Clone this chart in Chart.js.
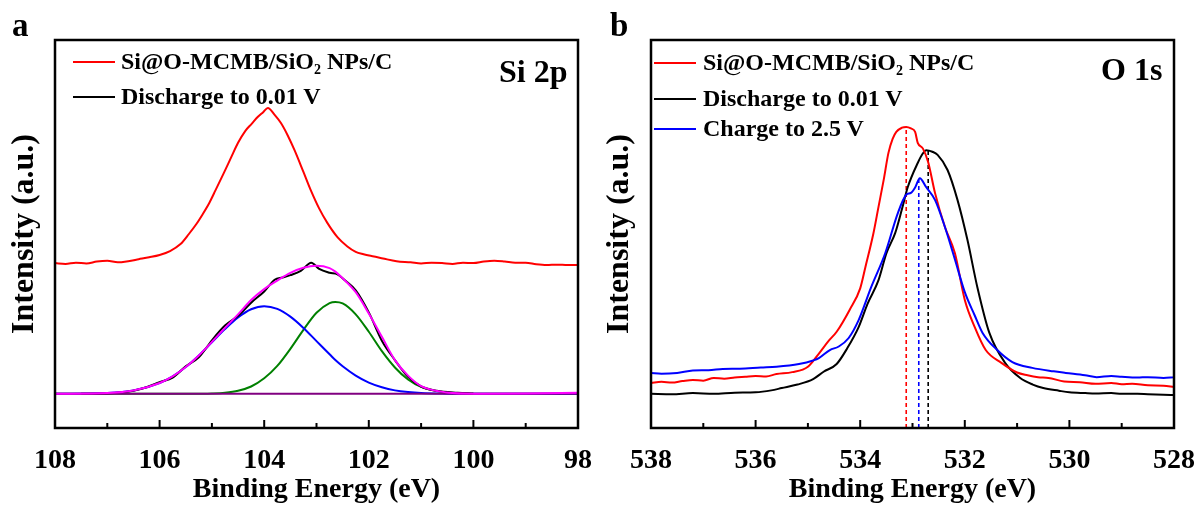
<!DOCTYPE html>
<html>
<head>
<meta charset="utf-8">
<script src="https://cdn.jsdelivr.net/npm/chart.js@4.4.0/dist/chart.umd.min.js"></script>
<style>
body{margin:0;width:1203px;height:506px;background:#fff;position:relative;overflow:hidden;font-family:"Liberation Serif","Times New Roman",serif;font-weight:bold;color:#000}
.panel{position:absolute;top:0}
.txt{position:absolute;white-space:nowrap;font-weight:bold}
.leg{position:absolute;white-space:nowrap;font-size:24px;line-height:28px;font-weight:bold}
.ln{position:absolute;height:2px}
sub{font-size:14px;vertical-align:-5px;line-height:0}
</style>
</head>
<body>
<div class="panel" style="left:0"><canvas id="chartA" width="600" height="506"></canvas></div>
<div class="panel" style="left:600px"><canvas id="chartB" width="603" height="506"></canvas></div>

<div class="txt" style="left:12px;top:7px;font-size:33px">a</div>
<div class="txt" style="left:610px;top:7px;font-size:33px">b</div>
<div class="txt" style="left:499px;top:53px;font-size:32px">Si 2p</div>
<div class="txt" style="left:1101px;top:51px;font-size:32px">O 1s</div>

<div class="ln" style="left:73px;top:61px;width:42px;background:#ff0000"></div>
<div class="leg" style="left:121px;top:47px">Si@O-MCMB/SiO<sub>2</sub> NPs/C</div>
<div class="ln" style="left:73px;top:96px;width:42px;background:#000"></div>
<div class="leg" style="left:121px;top:82px">Discharge to 0.01 V</div>

<div class="ln" style="left:654px;top:62px;width:42px;background:#ff0000"></div>
<div class="leg" style="left:703px;top:48px">Si@O-MCMB/SiO<sub>2</sub> NPs/C</div>
<div class="ln" style="left:654px;top:98px;width:42px;background:#000"></div>
<div class="leg" style="left:703px;top:84px">Discharge to 0.01 V</div>
<div class="ln" style="left:654px;top:128px;width:42px;background:#0000ff"></div>
<div class="leg" style="left:703px;top:114px">Charge to 2.5 V</div>

<script>
// ---- panel a : Si 2p ----
var siE = [108.0,107.8,107.6,107.4,107.2,107.0,106.8,106.6,106.4,106.2,106.0,105.8,105.6,105.44,105.3,105.2,105.05,104.93,104.78,104.63,104.5,104.36,104.24,104.12,104.02,103.93,103.8,103.68,103.55,103.42,103.25,103.11,102.95,102.79,102.6,102.41,102.25,102.1,101.9,101.7,101.47,101.2,101.0,100.8,100.6,100.4,100.2,100.0,99.8,99.6,99.4,99.2,99.0,98.8,98.6,98.4,98.2,98.0];
var siPristine = [42.5,42.3,42.6,42.4,42.9,43.1,42.7,43.0,43.5,44.0,44.6,45.6,47.4,50.0,52.5,54.6,58.0,61.3,65.5,69.8,73.5,76.6,78.4,80.2,81.4,82.5,80.7,78.6,75.4,71.6,66.0,61.3,56.6,52.8,49.2,46.8,45.4,44.8,44.2,43.6,43.0,42.7,42.4,42.6,42.5,42.3,42.6,42.5,42.9,43.1,42.9,42.6,42.6,42.2,42.0,42.1,42.0,42.0];

var siDisE = [107.5,107.0,106.5,106.25,106.0,105.75,105.5,105.25,105.0,104.75,104.5,104.25,104.0,103.8,103.65,103.5,103.3,103.1,102.95,102.75,102.6,102.45,102.25,102.0,101.75,101.5,101.25,101.0,100.7,100.3,100.0];
var siDis = [8.8,8.9,9.6,10.5,11.8,13.0,15.9,18.2,22.6,26.4,28.9,32.3,35.2,38.2,38.8,39.4,40.5,42.6,41.0,40.0,39.6,38.0,35.5,29.8,22.5,17.5,13.2,10.7,9.6,9.1,8.9];

var fitE = [108,107,106.5,106,105.75,105.5,105.25,105,104.75,104.5,104.25,104,103.75,103.5,103.25,103,102.75,102.64,102.5,102.25,102,101.75,101.5,101.25,101,100.5,100,99,98];
var fitBlue = [8.8,9.0,9.65,11.6,13.3,15.7,18.7,22.1,25.5,28.5,30.6,31.4,30.7,28.7,25.8,22.4,19.0,17.5,15.9,13.5,11.7,10.5,9.7,9.25,9.0,8.85,8.8,8.8,8.8];
var fitGreen = [8.8,8.8,8.8,8.8,8.8,8.8,8.83,8.9,9.1,9.6,10.7,12.8,16.0,20.4,25.3,29.7,32.2,32.5,32.1,29.3,24.8,19.8,15.6,12.5,10.6,9.1,8.8,8.8,8.8];
var fitSum = [8.8,9.0,9.65,11.6,13.3,15.7,18.7,22.2,25.8,29.3,33.0,35.8,38.0,40.0,41.3,41.8,41.2,40.3,38.6,35.0,29.5,23.5,17.5,13.5,10.8,9.15,8.85,8.9,9.1];
var bgE = [108, 98];
var bgVal = [8.8, 8.8];

var ticksA = [108, 106, 104, 102, 100, 98];
var minorA = [107, 105, 103, 101, 99];

// ---- panel b : O 1s ----
var oRedE = [538.0,537.8,537.6,537.4,537.2,537.0,536.8,536.6,536.4,536.2,536.0,535.8,535.6,535.3,535.0,534.8,534.6,534.45,534.2,534.0,533.9,533.75,533.65,533.55,533.46,533.38,533.31,533.2,533.12,533.03,532.95,532.9,532.8,532.7,532.57,532.38,532.19,532.0,531.81,531.6,531.3,531.0,530.8,530.6,530.4,530.1,529.8,529.5,529.2,529.0,528.8,528.5,528.2,528.0];
var oRed = [11.6,11.9,11.7,12.1,12.4,12.2,12.9,12.7,13.0,13.2,13.4,13.3,13.9,14.4,15.8,19.0,22.5,24.8,30.5,36.0,41.5,50.0,57.0,64.0,70.9,74.5,76.3,77.4,77.6,77.2,76.3,73.5,72.0,68.5,60.6,51.8,45.1,33.0,26.0,20.1,16.8,14.3,13.6,13.1,12.9,12.0,11.8,11.4,11.6,11.3,11.4,11.0,10.9,10.6];

var oBlackE = [538.0,537.6,537.2,536.8,536.4,536.0,535.7,535.5,535.2,534.9,534.7,534.45,534.25,534.03,533.86,533.65,533.5,533.33,533.2,533.09,532.9,532.8,532.74,532.62,532.52,532.33,532.14,531.95,531.76,531.53,531.23,530.94,530.7,530.5,530.2,530.0,529.7,529.5,529.2,529.0,528.7,528.5,528.2,528.0];
var oBlack = [8.8,8.7,9.0,8.8,9.1,9.2,9.7,10.3,11.2,12.6,14.5,16.5,20.5,26.0,32.0,38.1,45.0,50.3,56.5,62.1,68.3,70.8,71.6,71.2,70.4,66.5,58.8,48.5,36.3,24.5,16.8,12.9,11.2,10.3,9.6,9.2,9.0,8.9,9.0,8.8,8.8,8.7,8.6,8.5];

var oBlueE = [538.0,537.8,537.5,537.2,536.9,536.63,536.3,535.9,535.6,535.17,534.9,534.79,534.58,534.41,534.22,534.03,533.79,533.52,533.28,533.12,533.03,532.95,532.86,532.74,532.57,532.38,532.19,532.0,531.81,531.66,531.38,531.09,530.71,530.3,530.07,529.7,529.48,529.2,529.0,528.7,528.5,528.2,528.0];
var oBlue = [14.2,14.0,14.2,14.8,14.9,15.2,15.3,15.6,15.8,16.5,17.4,18.0,20.1,21.0,23.2,27.8,36.3,45.1,55.4,60.1,60.6,62.0,64.4,62.1,58.8,51.8,43.5,35.0,29.0,24.5,20.1,17.0,15.5,14.6,14.2,13.6,13.1,13.4,13.2,13.0,13.1,12.9,13.1];

var peakE = [533.12, 532.88, 532.7];
var peakTop = [77.6, 64.4, 71.6];

var ticksB = [538, 536, 534, 532, 530, 528];
var minorB = [537, 535, 533, 531, 529];

Chart.defaults.font.family = "'Liberation Serif', 'Times New Roman', serif";
Chart.defaults.color = '#000';

function pts(xs, ys) {
	var out = [];
	for (var i in xs) {
		out.push({x: xs[i], y: ys[i]});
	}
	return out;
}

function curve(xs, ys, color, order) {
	return {
		data: pts(xs, ys),
		borderColor: color,
		borderWidth: 2,
		pointRadius: 0,
		fill: false,
		cubicInterpolationMode: 'monotone',
		order: order
	};
}

function dashed(x, top, color) {
	return {
		data: [{x: x, y: 0}, {x: x, y: top}],
		borderColor: color,
		borderWidth: 1.6,
		borderDash: [4, 3],
		pointRadius: 0,
		tension: 0,
		order: 10
	};
}

// box round the plot + inward ticks on the bottom axis
var framePlugin = {
	id: 'frame',
	afterDraw: function(chart) {
		var ctx = chart.ctx;
		var a = chart.chartArea;
		var x = chart.scales.x;
		var o = chart.options.plugins.frame;
		ctx.save();
		ctx.strokeStyle = '#000';
		ctx.lineWidth = 2;
		o.major.forEach(function(v) {
			var px = x.getPixelForValue(v);
			ctx.beginPath();
			ctx.moveTo(px, a.bottom);
			ctx.lineTo(px, a.bottom - 8);
			ctx.stroke();
		});
		o.minor.forEach(function(v) {
			var px = x.getPixelForValue(v);
			ctx.beginPath();
			ctx.moveTo(px, a.bottom);
			ctx.lineTo(px, a.bottom - 5);
			ctx.stroke();
		});
		ctx.lineWidth = 2.5;
		ctx.strokeRect(a.left, a.top, a.right - a.left, a.bottom - a.top);
		ctx.restore();
	}
};

function makeChart(id, datasets, xmin, xmax, major, minor, yWidth, padRight, yTitlePad) {
	var ctx = document.getElementById(id);
	return new Chart(ctx, {
		type: 'line',
		data: {datasets: datasets},
		options: {
			responsive: false,
			animation: false,
			layout: {padding: {left: 0, right: padRight, top: 40, bottom: 0}},
			plugins: {
				legend: {display: false},
				tooltip: {enabled: false},
				frame: {major: major, minor: minor}
			},
			scales: {
				x: {
					type: 'linear',
					min: xmin,
					max: xmax,
					reverse: true,
					afterBuildTicks: function(s) {
						s.ticks = major.map(function(v) { return {value: v}; });
					},
					afterFit: function(s) { s.height = 78; },
					grid: {display: false},
					border: {display: false},
					ticks: {
						padding: 8,
						maxRotation: 0,
						autoSkip: false,
						font: {size: 28, weight: 'bold'},
						callback: function(v) { return String(v); }
					},
					title: {
						display: true,
						text: 'Binding Energy (eV)',
						font: {size: 28, weight: 'bold', lineHeight: 1.1},
						padding: {top: 0, bottom: 1}
					}
				},
				y: {
					min: 0,
					max: 100,
					afterFit: function(s) { s.width = yWidth; },
					grid: {display: false},
					border: {display: false},
					ticks: {display: false},
					title: {
						display: true,
						text: 'Intensity (a.u.)',
						font: {size: 32, weight: 'bold', lineHeight: 1.1},
						padding: {top: yTitlePad, bottom: 0}
					}
				}
			}
		},
		plugins: [framePlugin]
	});
}

makeChart('chartA', [
	curve(siE, siPristine, '#ff0000', 0),
	curve(fitE, fitSum, '#ff00ff', 1),
	curve(bgE, bgVal, '#800080', 2),
	curve(siDisE, siDis, '#000000', 3),
	curve(fitE, fitBlue, '#0000ff', 4),
	curve(fitE, fitGreen, '#008000', 5)
], 98, 108, ticksA, minorA, 55, 17, 7);

makeChart('chartB', [
	curve(oBlueE, oBlue, '#0000ff', 0),
	curve(oRedE, oRed, '#ff0000', 1),
	curve(oBlackE, oBlack, '#000000', 2),
	dashed(peakE[0], peakTop[0], '#ff0000'),
	dashed(peakE[1], peakTop[1], '#0000ff'),
	dashed(peakE[2], peakTop[2], '#000000')
], 528, 538, ticksB, minorB, 51, 25, 2);
</script>
</body>
</html>
